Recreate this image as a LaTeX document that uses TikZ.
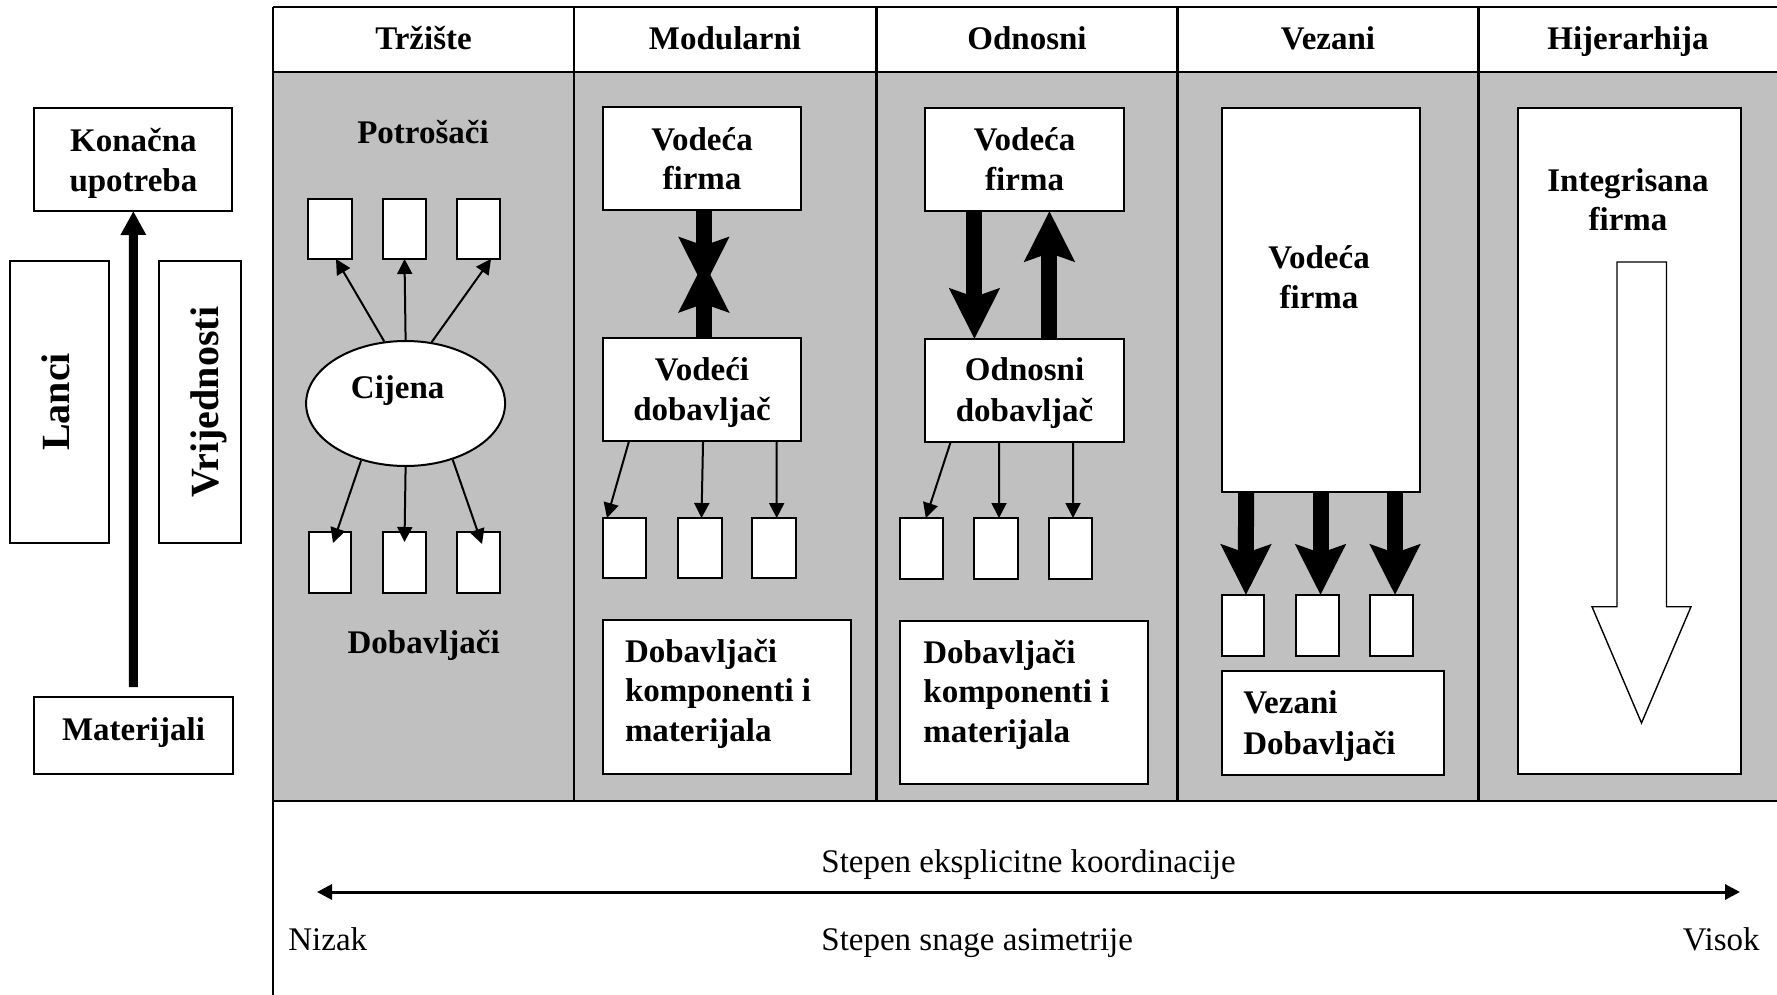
\documentclass[tikz,border=0pt]{standalone}
\usepackage{fontspec}
\setmainfont{Liberation Serif}
\usetikzlibrary{arrows.meta,calc,shapes.geometric}
\definecolor{panel}{RGB}{192,192,192}
\newcommand\pnlbox[5]{\node[box,minimum width={(#4-#2)*0.5pt},minimum height={(#5-#3)*0.5pt}] (#1) at (#2,#3) {};}
\begin{document}
\begin{tikzpicture}[x=0.5pt,y=-0.5pt,
  box/.style={draw=black,line width=1pt,fill=white,inner sep=0pt,outer sep=0pt,anchor=north west},
  frame/.style={line width=1.3pt},
  bt/.style={font=\bfseries\fontsize{16.5}{20}\selectfont,inner sep=0pt,anchor=base},
  btl/.style={bt,anchor=base west},
  rt/.style={font=\fontsize{16.5}{20}\selectfont,inner sep=0pt,anchor=base west},
  vt/.style={font=\bfseries\fontsize{20}{24}\selectfont,inner sep=0pt,anchor=base,rotate=90},
  sarrow/.style={line width=1pt,-{Triangle[length=7.5pt,width=7.5pt]}},
  bigarrow/.style={line width=8pt,-{Stealth[length=25pt,width=24.5pt,inset=4pt]}},
  lwarrow/.style={line width=4.5pt,-{Triangle[length=12pt,width=12pt]}},
  axarrow/.style={line width=1.5pt,{Triangle[length=7.5pt,width=7.5pt]}-{Triangle[length=7.5pt,width=7.5pt]}}]
\useasboundingbox (0,0) rectangle (1777,995);
\clip (0,0) rectangle (1777,995);
% panel background and frame
\fill[panel] (273,72) rectangle (1790,801);
\draw[frame] (273,7) -- (1790,7);
\draw[frame] (273,72) -- (1790,72);
\draw[frame] (273,801) -- (1790,801);
\draw[frame] (273,7) -- (273,1000);
\foreach \xx in {574,876.5,1177.5,1478.5} \draw[frame] (\xx,7) -- (\xx,801);
% headers
\node[bt] (h1) at (423.5,50) {Tržište};
\node[bt] (h2) at (725,50) {Modularni};
\node[bt] (h3) at (1027,50) {Odnosni};
\node[bt] (h4) at (1328,50) {Vezani};
\node[bt] (h5) at (1628,50) {Hijerarhija};
% left part
\pnlbox{kon}{34.4}{108}{232.3}{211}
\node[bt] (kon1) at (133.4,151.7) {Konačna};
\node[bt] (kon2) at (133.4,191.7) {upotreba};
\pnlbox{lan}{10}{261}{109}{543}
\node[vt] (lant) at (69,402) {Lanci};
\pnlbox{vri}{159}{261}{241}{543}
\node[vt] (vrit) at (218,402) {Vrijednosti};
\pnlbox{mat}{34}{697}{233}{774}
\node[bt] (matt) at (133.5,740) {Materijali};
\draw[lwarrow,shorten <=5pt] (mat.north) -- (kon.south);
% Trziste
\node[bt] (pot) at (423,143) {Potrošači};
\pnlbox{t1}{308}{199}{352}{259}
\pnlbox{t2}{383}{199}{426}{259}
\pnlbox{t3}{457}{199}{500}{259}
\node[draw,line width=1pt,fill=white,ellipse,minimum width=99.5pt,minimum height=62.5pt,inner sep=0pt] (cij) at (405.6,403.5) {};
\node[bt] (cijt) at (397.7,398) {Cijena};
\pnlbox{b1}{309}{532}{351}{593}
\pnlbox{b2}{383}{532}{426}{593}
\pnlbox{b3}{457}{532}{500}{593}
\node[bt] (dob) at (423.7,653) {Dobavljači};
\draw[sarrow] (cij.109.5) -- ([xshift=3pt]t1.south);
\draw[sarrow] (cij.90) -- (t2.south);
\draw[sarrow] (cij.67) -- ([xshift=6.25pt]t3.south);
\draw[sarrow] (cij.232) -- ([xshift=1.5pt,yshift=-5.5pt]b1.north);
\draw[sarrow] (cij.270) -- ([yshift=-5pt]b2.north);
\draw[sarrow] (cij.310) -- ([xshift=1.75pt,yshift=-6pt]b3.north);
% Modularni
\pnlbox{vf}{602.7}{107}{801}{210}
\node[bt] (vf1) at (702,150) {Vodeća};
\node[bt] (vf2) at (702,190) {firma};
\pnlbox{vd}{602.7}{338}{801}{441}
\node[bt] (vd1) at (702,380) {Vodeći};
\node[bt] (vd2) at (702,420) {dobavljač};
\draw[bigarrow] ([xshift=1pt]vf.south) -- ++(0,77.7);
\draw[bigarrow] ([xshift=1pt]vd.north) -- ++(0,-76.3);
\pnlbox{m1}{603}{518}{646}{578}
\pnlbox{m2}{678}{518}{722}{578}
\pnlbox{m3}{752}{518}{796}{578}
\draw[sarrow] ([xshift=-36.4pt]vd.south) -- ([xshift=-8.75pt]m1.north);
\draw[sarrow] ([xshift=0.6pt]vd.south) -- ([xshift=0.75pt]m2.north);
\draw[sarrow] ([xshift=37.4pt]vd.south) -- ([xshift=1.35pt]m3.north);
\pnlbox{mk}{603}{620}{851}{774}
\node[btl] (mk1) at (624.6,662.7) {Dobavljači};
\node[btl] (mk2) at (624.6,701.7) {komponenti i};
\node[btl] (mk3) at (624.6,741.7) {materijala};
% Odnosni
\pnlbox{ovf}{925}{108}{1123.5}{211}
\node[bt] (ovf1) at (1024.6,150) {Vodeća};
\node[bt] (ovf2) at (1024.6,191) {firma};
\pnlbox{od}{925}{339}{1123.5}{442}
\node[bt] (od1) at (1024.6,380) {Odnosni};
\node[bt] (od2) at (1024.6,421) {dobavljač};
\draw[bigarrow] ([xshift=-24.9pt]ovf.south) -- ([xshift=-24.9pt]od.north);
\draw[bigarrow] ([xshift=12.6pt]od.north) -- ([xshift=12.6pt]ovf.south);
\pnlbox{o1}{900}{518}{943}{579}
\pnlbox{o2}{974}{518}{1018}{579}
\pnlbox{o3}{1049}{518}{1092}{579}
\draw[sarrow] ([xshift=-36.8pt]od.south) -- ([xshift=2.15pt]o1.north);
\draw[sarrow] ([xshift=-12.6pt]od.south) -- ([xshift=1.5pt]o2.north);
\draw[sarrow] ([xshift=24.4pt]od.south) -- ([xshift=1.25pt]o3.north);
\pnlbox{ok}{900}{621}{1148}{784}
\node[btl] (ok1) at (923,663) {Dobavljači};
\node[btl] (ok2) at (923,702) {komponenti i};
\node[btl] (ok3) at (923,742) {materijala};
% Vezani
\pnlbox{vz}{1221.5}{108}{1419.5}{492}
\node[bt] (vz1) at (1319,268) {Vodeća};
\node[bt] (vz2) at (1319,308) {firma};
\pnlbox{v1}{1221.5}{595}{1264}{656}
\pnlbox{v2}{1296}{595}{1339}{656}
\pnlbox{v3}{1370}{595}{1413}{656}
\draw[bigarrow] ([xshift=-37.25pt]vz.south) -- ([xshift=1.6pt]v1.north);
\draw[bigarrow] (vz.south) -- ([xshift=1.5pt]v2.north);
\draw[bigarrow] ([xshift=37.25pt]vz.south) -- ([xshift=1.75pt]v3.north);
\pnlbox{vzd}{1221.5}{671}{1444}{775}
\node[btl] (vzd1) at (1243,713) {Vezani};
\node[btl] (vzd2) at (1243,754) {Dobavljači};
% Hijerarhija
\pnlbox{hi}{1517.5}{108}{1740.5}{774}
\node[bt] (hi1) at (1628,191.7) {Integrisana};
\node[bt] (hi2) at (1628,230) {firma};
\draw[line width=0.7pt,fill=white] (1617,262) -- (1666.5,262) -- (1666.5,606.7) -- (1691,606.7) -- (1641.5,723) -- (1592,606.7) -- (1617,606.7) -- cycle;
% bottom axis
\coordinate (axL) at (317,892);
\coordinate (axR) at (1740,892);
\draw[axarrow] (axL) -- (axR);
\node[rt] (ek) at (821,872) {Stepen eksplicitne koordinacije};
\node[rt] (sn) at (821,950) {Stepen snage asimetrije};
\node[rt] (niz) at (288,950) {Nizak};
\node[rt,anchor=base east] (vis) at (1760,950) {Visok};
\end{tikzpicture}
\end{document}
